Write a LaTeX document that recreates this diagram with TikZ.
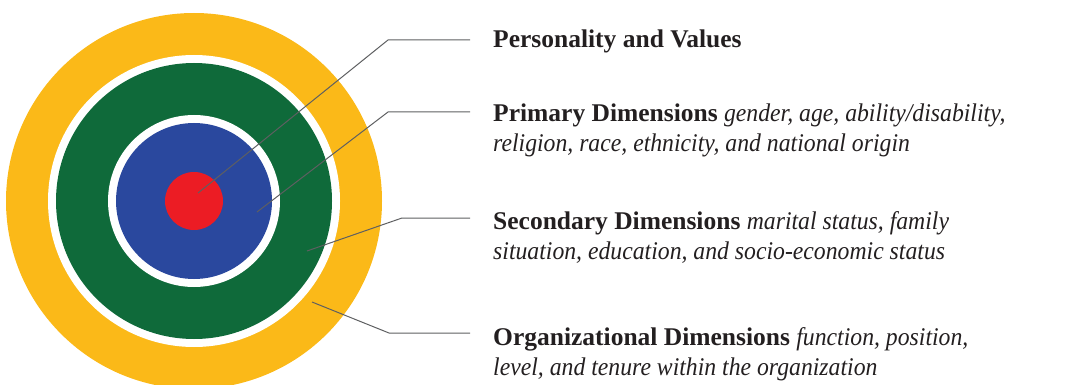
\documentclass[tikz,border=0pt]{standalone}
\usepackage{fontspec}
\setmainfont{Liberation Serif}[ItalicFeatures={FakeStretch=0.93}]
\definecolor{ringyellow}{HTML}{FBB918}
\definecolor{ringgreen}{HTML}{0F6A3A}
\definecolor{ringblue}{HTML}{2A489E}
\definecolor{ringred}{HTML}{EC1C24}
\definecolor{leadgray}{HTML}{5E5F61}
\definecolor{labeltext}{HTML}{231F20}
\begin{document}
\begin{tikzpicture}[x=1pt,y=-1pt]
  \tikzstyle{every node}=[inner sep=0pt, anchor=base west, text=labeltext,
    font=\fontsize{25.5}{30}\selectfont]
  \tikzstyle{leader}=[draw=leadgray, line width=1pt]
  \useasboundingbox (0,0) rectangle (1068,385);
  \clip (0,0) rectangle (1068,385);

  \coordinate (mid) at (194,201);
  \fill[ringyellow] (mid) circle (188pt);
  \fill[white] (mid) circle (146pt);
  \fill[ringgreen] (mid) circle (138pt);
  \fill[white] (mid) circle (86pt);
  \fill[ringblue] (mid) circle (78pt);
  \fill[ringred] (mid) circle (29pt);

  \foreach \i/\px/\py/\kx/\ky in {0/198/193/388/40, 1/257/212/388/112,
    2/307/251/402/218, 3/312/302/389/333}
  {
    \coordinate (p\i) at (\px,\py);
    \coordinate (k\i) at (\kx,\ky);
    \coordinate (e\i) at (470,\ky);
    \draw[leader] (p\i) -- (k\i) -- (e\i);
  }

  \path (493,48) node (t0) {\textbf{Personality and Values}};
  \path (493,122) node (t1) {\textbf{Primary Dimensions} \textit{gender, age, ability/disability,}};
  \path (493,152) node (t1b) {\textit{religion, race, ethnicity, and national origin}};
  \path (493,229) node (t2) {\textbf{Secondary Dimensions} \textit{marital status, family}};
  \path (493,259) node (t2b) {\textit{situation, education, and socio-economic status}};
  \path (493,345) node (t3) {\textbf{Organizational Dimensions} \textit{function, position,}};
  \path (493,375) node (t3b) {\textit{level, and tenure within the organization}};
\end{tikzpicture}
\end{document}
